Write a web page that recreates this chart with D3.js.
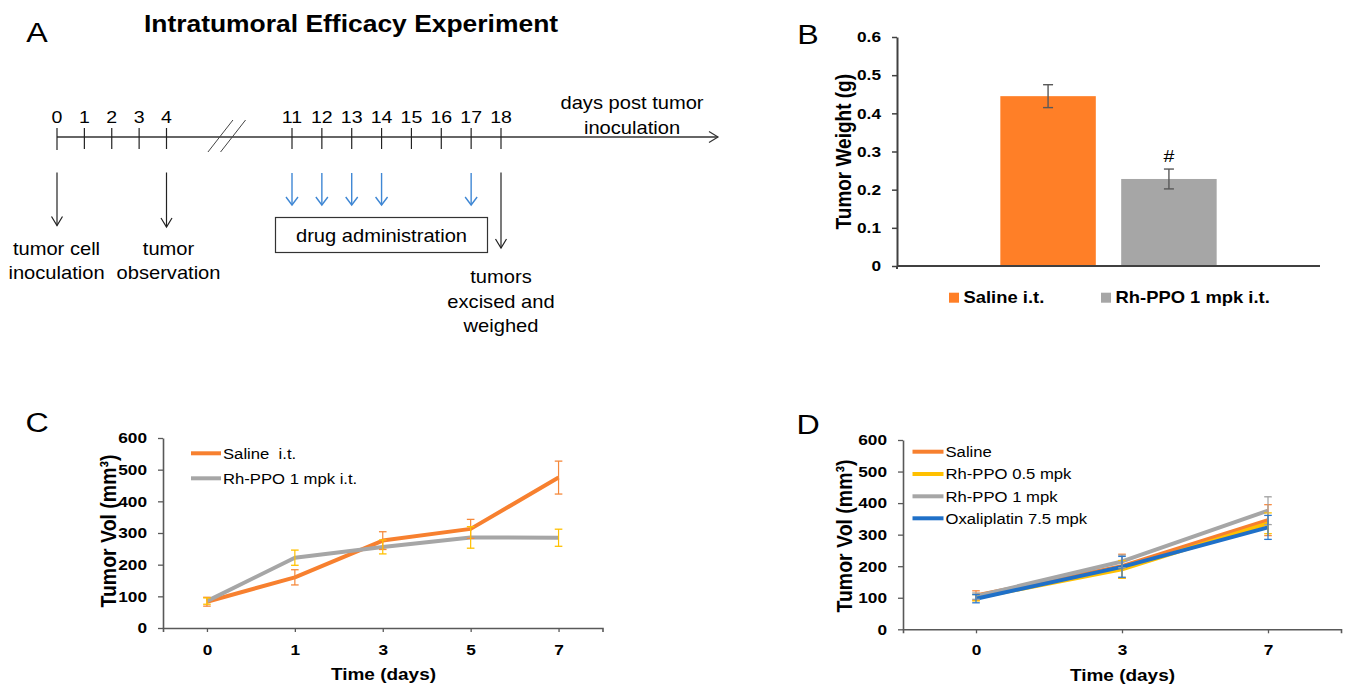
<!DOCTYPE html>
<html><head><meta charset="utf-8">
<script src="https://cdn.jsdelivr.net/npm/d3@7"></script>
<style>
html,body{margin:0;padding:0;background:#fff;}
svg{display:block;font-family:"Liberation Sans",Arial,sans-serif;}
text{white-space:pre;}
</style></head>
<body><svg id="fig" width="1351" height="686"></svg>
<script>
// ---------- DATA ----------
// Panel A: timeline
const timelineDays = [0,1,2,3,4,11,12,13,14,15,16,17,18];
const dosingDays = [11,12,13,14,17];
const eventDays = [0,4,18];
const eventLabels = [["tumor cell","inoculation"],["tumor","observation"],["tumors","excised and","weighed"]];
const axisCaption = ["days post tumor","inoculation"];
const boxLabel = "drug administration";

// Panel B: tumor weight
const groupsB = ["Saline i.t.","Rh-PPO 1 mpk i.t."];
const weightB = [0.445, 0.228];
const weightErrB = [0.030, 0.026];
const yTicksB = [0,0.1,0.2,0.3,0.4,0.5,0.6];

// Panel C: tumor volume, i.t.
const daysC = ["0","1","3","5","7"];
const salineC = [83,160,276,313,475];
const salineErrC = [14,24,28,30,52];
const rhppo1C = [85,222,256,286,285];
const rhppo1ErrC = [10,24,22,34,27];
const seriesNamesC = ["Saline\u00a0 i.t.","Rh-PPO 1 mpk i.t."];

// Panel D: tumor volume
const daysD = ["0","3","7"];
const salineD = [107,200,346];
const salineErrD = [15,38,49];
const rhppo05D = [100,190,336];
const rhppo05ErrD = [10,28,33];
const rhppo1D = [105,215,376];
const rhppo1ErrD = [10,20,44];
const oxaliD = [97,198,323];
const oxaliErrD = [13,33,38];
const seriesNamesD = ["Saline","Rh-PPO 0.5 mpk","Rh-PPO 1 mpk","Oxaliplatin 7.5 mpk"];
const yTicksVol = [0,100,200,300,400,500,600];

// ---------- STYLE ----------
const SX = 1.15;
const ORANGE = "#FF7F27", GRAY = "#A6A6A6", YELLOW = "#FFC000", BLUE = "#1F70C8";
const LORANGE = "#F7802F";
const AXIS = "#595959";

const svg = d3.select("#fig");

function label(parent, x, y, s, o = {}) {
  return parent.append("text")
    .attr("transform", `translate(${x},${y}) scale(${SX},1)` + (o.rotate ? ` rotate(${o.rotate})` : ""))
    .attr("text-anchor", o.anchor || "start")
    .attr("font-size", o.size || 15)
    .attr("font-weight", o.weight || "normal")
    .attr("fill", o.fill || "#000")
    .attr("dy", o.dy || null)
    .text(s);
}

// ---------- PANEL A ----------
const gA = svg.append("g");
label(gA, 37, 41.5, "A", {size: 28, anchor: "middle"});
label(gA, 351, 31.5, "Intratumoral Efficacy Experiment", {size: 23, weight: "bold", anchor: "middle"});

const tlX = d3.scaleLinear().domain([0,4,11,18]).range([57,166.5,292,501]);
const lineY = 137;
gA.append("line").attr("x1", tlX(0)).attr("x2", 718).attr("y1", lineY).attr("y2", lineY)
  .attr("stroke", "#333").attr("stroke-width", 1.3);
gA.append("polyline").attr("points", `709,131.5 718,${lineY} 709,142.5`)
  .attr("fill", "none").attr("stroke", "#333").attr("stroke-width", 1.2);

timelineDays.forEach(d => {
  gA.append("line").attr("x1", tlX(d)).attr("x2", tlX(d)).attr("y1", 128).attr("y2", d === 0 ? 150 : 149)
    .attr("stroke", "#222").attr("stroke-width", 1.2);
  label(gA, tlX(d), 122.5, String(d), {size: 17, anchor: "middle"});
});
// break marks
const brk = (tlX(4) + tlX(11)) / 2 - 2.5;
[-6.3, 6.3].forEach(o => {
  gA.append("line").attr("x1", brk + o - 12.5).attr("y1", 152).attr("x2", brk + o + 12.5).attr("y2", 120)
    .attr("stroke", "#444").attr("stroke-width", 1);
});
axisCaption.forEach((s, i) => label(gA, 632, 108.5 + i * 25, s, {size: 17.5, anchor: "middle"}));

function downArrow(g, x, y1, y2, color, hw, hh, sw) {
  g.append("line").attr("x1", x).attr("x2", x).attr("y1", y1).attr("y2", y2)
    .attr("stroke", color).attr("stroke-width", sw);
  g.append("polyline").attr("points", `${x - hw},${y2 - hh} ${x},${y2} ${x + hw},${y2 - hh}`)
    .attr("fill", "none").attr("stroke", color).attr("stroke-width", sw);
}
const evEnd = [225.5, 227, 248];
eventDays.forEach((d, i) => {
  downArrow(gA, tlX(d), 172.5, evEnd[i], "#222", 5.5, 9, 1.2);
});
dosingDays.forEach(d => downArrow(gA, tlX(d), 173, 205, "#3F87D4", 6, 8, 1.4));

gA.append("rect").attr("x", 275.5).attr("y", 217.5).attr("width", 212).attr("height", 35)
  .attr("fill", "none").attr("stroke", "#333").attr("stroke-width", 1.2);
label(gA, 381.5, 241.5, boxLabel, {size: 17.5, anchor: "middle"});

const evLabelX = [56.5, 168.5, 501];
const evLabelY = [255, 255, 283.3];
eventLabels.forEach((lines, i) => {
  lines.forEach((s, j) => label(gA, evLabelX[i], evLabelY[i] + j * 24.3, s, {size: 17.5, anchor: "middle"}));
});

// ---------- PANEL B ----------
const gB = svg.append("g");
label(gB, 808, 44, "B", {size: 28, anchor: "middle"});
const yB = d3.scaleLinear().domain([0,0.6]).range([266,37]);
const xB = d3.scaleBand().domain(groupsB).range([897,1320]).paddingInner(0.21).paddingOuter(0.855);
const colorsB = [ORANGE, GRAY];

gB.selectAll("rect.bar").data(groupsB).join("rect").attr("class","bar")
  .attr("x", d => xB(d)).attr("width", xB.bandwidth())
  .attr("y", (d, i) => yB(weightB[i])).attr("height", (d, i) => yB(0) - yB(weightB[i]))
  .attr("fill", (d, i) => colorsB[i]);

groupsB.forEach((g, i) => {
  const cx = xB(g) + xB.bandwidth() / 2;
  const top = yB(weightB[i] + weightErrB[i]), bot = yB(weightB[i] - weightErrB[i]);
  gB.append("line").attr("x1", cx).attr("x2", cx).attr("y1", top).attr("y2", bot).attr("stroke", "#595959").attr("stroke-width", 1.4);
  [top, bot].forEach(yy => gB.append("line").attr("x1", cx - 5).attr("x2", cx + 5).attr("y1", yy).attr("y2", yy)
    .attr("stroke", "#595959").attr("stroke-width", 1.4));
});
label(gB, xB(groupsB[1]) + xB.bandwidth() / 2, 162, "#", {size: 17, anchor: "middle"});

const axB = gB.append("g").attr("transform", "translate(897,0)")
  .call(d3.axisLeft(yB).tickValues(yTicksB).tickSize(5).tickSizeOuter(0).tickFormat(d3.format(".1~f")));
axB.select(".domain").attr("stroke", "#404040").attr("stroke-width", 2);
axB.selectAll(".tick line").attr("stroke", "#404040").attr("stroke-width", 1.5);
axB.selectAll(".tick text").attr("x", -16 / SX).attr("transform", `scale(${SX},1)`)
  .attr("font-size", 15).attr("font-weight", "bold").attr("fill", "#000").attr("font-family", null);
gB.append("line").attr("x1", 897).attr("x2", 897).attr("y1", 266).attr("y2", 269).attr("stroke", "#404040").attr("stroke-width", 2);
gB.append("line").attr("x1", xB.range()[0]).attr("x2", xB.range()[1]).attr("y1", yB(0)).attr("y2", yB(0))
  .attr("stroke", "#404040").attr("stroke-width", 2);
label(gB, 843, 151.7, "Tumor Weight (g)", {size: 19, weight: "bold", anchor: "middle", rotate: -90, dy: "0.35em"});

const legBX = [949, 1101];
groupsB.forEach((g, i) => {
  gB.append("rect").attr("x", legBX[i]).attr("y", 292.7).attr("width", 10).attr("height", 10).attr("fill", colorsB[i]);
  label(gB, legBX[i] + 14.5, 303.3, g, {size: 16, weight: "bold"});
});

// ---------- shared line-chart helper ----------
function volChart(g, x, y, series, opt) {
  const axY = g.append("g").attr("transform", `translate(${x.range()[0]},0)`)
    .call(d3.axisLeft(y).tickValues(yTicksVol).tickSize(5).tickSizeOuter(0));
  axY.select(".domain").attr("stroke", AXIS).attr("stroke-width", 1.6);
  axY.selectAll(".tick line").attr("stroke", AXIS).attr("stroke-width", 1.3);
  axY.selectAll(".tick text").attr("x", -16 / SX).attr("transform", `scale(${SX},1)`)
    .attr("font-size", 15).attr("font-weight", "bold").attr("fill", "#000").attr("font-family", null);

  const axX = g.append("g").attr("transform", `translate(0,${y(0)})`)
    .call(d3.axisBottom(x).tickSize(4).tickSizeOuter(4));
  axX.select(".domain").attr("stroke", AXIS).attr("stroke-width", 1.6);
  axX.selectAll(".tick line").attr("stroke", AXIS).attr("stroke-width", 1.3);
  axX.selectAll(".tick text").attr("y", opt.xLabelY - y(0)).attr("dy", 0).attr("transform", `scale(${SX},1)`)
    .attr("font-size", 15).attr("font-weight", "bold").attr("fill", "#000").attr("font-family", null);

  const line = d3.line().x(d => x(d[0])).y(d => y(d[1]));
  series.forEach(s => {
    const pts = x.domain().map((k, i) => [k, s.values[i]]);
    g.append("path").datum(pts).attr("d", line).attr("fill", "none")
      .attr("stroke", s.color).attr("stroke-width", 4).attr("stroke-linejoin", "round");
  });
  series.forEach(s => {
    x.domain().forEach((k, i) => {
      const cx = x(k), top = y(s.values[i] + s.err[i]), bot = y(s.values[i] - s.err[i]);
      g.append("line").attr("x1", cx).attr("x2", cx).attr("y1", top).attr("y2", bot)
        .attr("stroke", s.errColor).attr("stroke-width", 1.2);
      [top, bot].forEach(yy => g.append("line").attr("x1", cx - 3.8).attr("x2", cx + 3.8).attr("y1", yy).attr("y2", yy)
        .attr("stroke", s.errColor).attr("stroke-width", 1.3));
    });
  });
  // legend
  series.forEach((s, i) => {
    const ly = opt.legY[i];
    g.append("line").attr("x1", opt.legX[0]).attr("x2", opt.legX[1]).attr("y1", ly).attr("y2", ly)
      .attr("stroke", s.color).attr("stroke-width", 4);
    label(g, opt.legX[1] + 2, ly + 5.2, s.name, {size: 14.5});
  });
  label(g, opt.yTitle[0], opt.yTitle[1], "Tumor Vol (mm\u00b3)", {size: 19.5, weight: "bold", anchor: "middle", rotate: -90, dy: "0.35em"});
  label(g, opt.xTitle[0], opt.xTitle[1], "Time (days)", {size: 16.5, weight: "bold", anchor: "middle"});
}

// ---------- PANEL C ----------
const gC = svg.append("g");
label(gC, 37, 431.5, "C", {size: 28, anchor: "middle"});
const xC = d3.scalePoint().domain(daysC).range([163, 602.5]).padding(0.5);
const yC = d3.scaleLinear().domain([0,600]).range([628,438]);
volChart(gC, xC, yC, [
  {name: seriesNamesC[0], values: salineC, err: salineErrC, color: LORANGE, errColor: "#F5893B"},
  {name: seriesNamesC[1], values: rhppo1C, err: rhppo1ErrC, color: GRAY, errColor: YELLOW}
], {xLabelY: 655, legX: [191, 221], legY: [453.3, 478.3], yTitle: [108.5, 531], xTitle: [383.5, 680]});

// ---------- PANEL D ----------
const gD = svg.append("g");
label(gD, 808, 434, "D", {size: 28, anchor: "middle"});
const xD = d3.scalePoint().domain(daysD).range([903, 1341]).padding(0.5);
const yD = d3.scaleLinear().domain([0,600]).range([629.3,440]);
volChart(gD, xD, yD, [
  {name: seriesNamesD[0], values: salineD, err: salineErrD, color: LORANGE, errColor: "#F7893F"},
  {name: seriesNamesD[1], values: rhppo05D, err: rhppo05ErrD, color: YELLOW, errColor: YELLOW},
  {name: seriesNamesD[2], values: rhppo1D, err: rhppo1ErrD, color: GRAY, errColor: "#A0A0A0"},
  {name: seriesNamesD[3], values: oxaliD, err: oxaliErrD, color: BLUE, errColor: "#2A78D0"}
], {xLabelY: 655, legX: [912.5, 943.5], legY: [451.7, 474, 496.3, 518.3], yTitle: [844, 536], xTitle: [1122.5, 681]});
</script></body></html>
